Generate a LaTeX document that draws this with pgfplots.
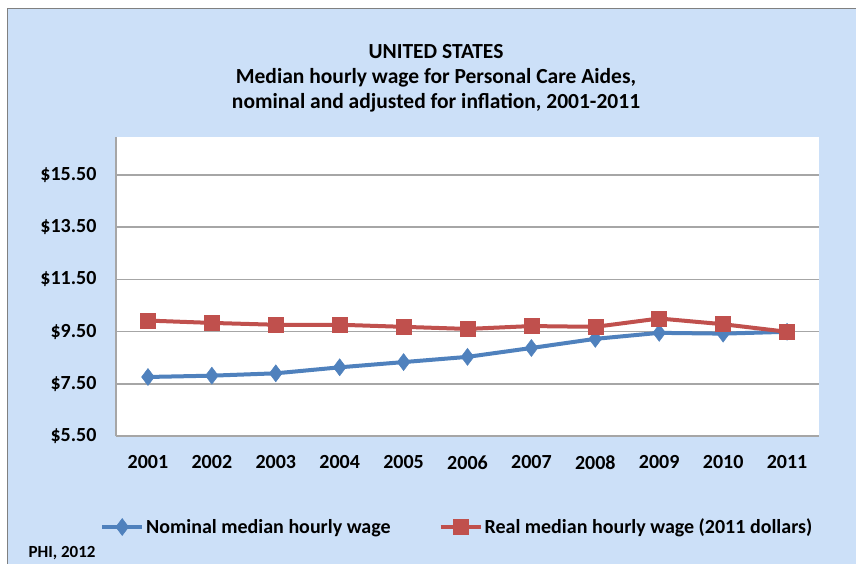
\documentclass[border=0pt]{standalone}
\usepackage{pgfplots}
\pgfplotsset{compat=1.18}
\usepackage{fontspec}
\setmainfont{Carlito}
\definecolor{bgblue}{HTML}{CCE0F8}
\definecolor{sblue}{HTML}{4F81BD}
\definecolor{sred}{HTML}{C0504D}
\definecolor{gridgray}{HTML}{A6A6A6}
\begin{document}
\begin{tikzpicture}[x=1pt,y=1pt]
\useasboundingbox (0,0) rectangle (856,564);
\fill[white] (0,0) rectangle (856,564);
\fill[bgblue] (7,0) rectangle (856,555);
\draw[gray,line width=1pt] (7,0) -- (7,555) -- (856,555);
\fill[white] (116,128) rectangle (819,427);
\begin{axis}[
  at={(116pt,128pt)}, anchor=south west,
  scale only axis, width=703pt, height=299pt,
  xmin=0.5, xmax=11.5, ymin=5.5, ymax=16.95,
  axis x line=bottom, axis y line=left,
  axis line style={gridgray, line width=1.5pt, -},
  xtick={1,...,11},
  xticklabels={2001,2002,2003,2004,2005,2006,2007,2008,2009,2010,2011},
  ytick={5.5,7.5,9.5,11.5,13.5,15.5},
  yticklabels={\$5.50,\$7.50,\$9.50,\$11.50,\$13.50,\$15.50},
  major tick length=0pt,
  ymajorgrids, grid style={gridgray, line width=1.5pt},
  tick label style={font=\fontsize{20}{24}\selectfont\bfseries},
  xticklabel style={yshift=-16pt},
  yticklabel style={xshift=-16pt},
  legend columns=2,
  legend style={at={(-19pt,-91pt)}, anchor=west, draw=none, fill=none,
    font=\fontsize{20}{24}\selectfont\bfseries,
    /tikz/every even column/.append style={column sep=46pt}},
  legend image code/.code={
    \draw[#1] (0pt,0pt) -- (40pt,0pt);
    \draw[#1, only marks] plot coordinates {(20pt,0pt)};
  },
]
\addplot[sblue, line width=4pt, mark=diamond*, mark size=8.5pt, mark options={line width=0.5pt, fill=sblue}]
coordinates {(1,7.76) (2,7.81) (3,7.90) (4,8.13) (5,8.33) (6,8.53) (7,8.87) (8,9.22) (9,9.45) (10,9.42) (11,9.49)};
\addlegendentry{Nominal median hourly wage}
\addplot[sred, line width=4pt, mark=square*, mark size=7.5pt, mark options={line width=0.5pt, fill=sred}]
coordinates {(1,9.92) (2,9.83) (3,9.76) (4,9.76) (5,9.68) (6,9.60) (7,9.71) (8,9.68) (9,10.0) (10,9.78) (11,9.49)};
\addlegendentry{Real median hourly wage (2011 dollars)}
\end{axis}
\node[font=\fontsize{21.5}{25}\selectfont\bfseries, align=center] at (436,486) {UNITED STATES\\Median hourly wage for Personal Care Aides,\\nominal and adjusted for inflation, 2001-2011};
\node[font=\fontsize{17}{20}\selectfont\bfseries, anchor=west] at (25,11) {PHI, 2012};
\end{tikzpicture}
\end{document}
